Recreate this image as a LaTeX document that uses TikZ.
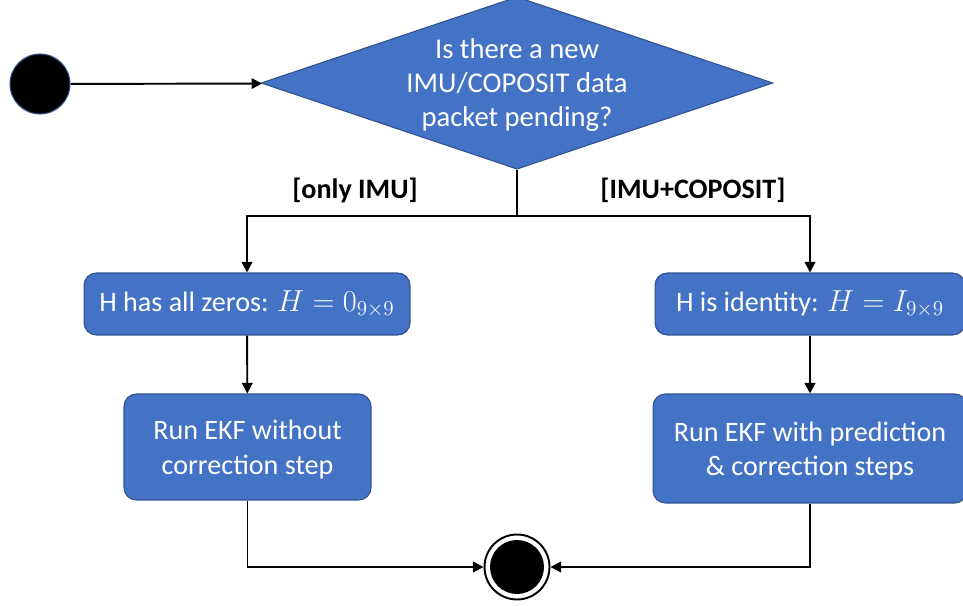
\documentclass[tikz,border=0pt]{standalone}
\usepackage{fontspec}
\setmainfont{Carlito}
\usetikzlibrary{shapes.geometric,arrows.meta}

\definecolor{boxblue}{HTML}{4472C4}
\definecolor{edgeblue}{HTML}{2F528F}

\newcommand{\hmath}[1]{{\fontsize{18.5}{20}\selectfont$#1$}}

\tikzset{
  flow/.style = {line width=1.1pt, -{Triangle[length=6pt,width=6pt]}},
  action/.style = {rectangle, rounded corners=7pt, draw=edgeblue, line width=0.6pt,
    fill=boxblue, text=white, align=center, inner sep=0pt,
    font=\fontsize{16}{19.8}\selectfont},
  decision/.style = {diamond, draw=edgeblue, line width=0.6pt, fill=boxblue,
    text=white, align=center, inner sep=0pt, aspect=2.95,
    minimum width=10.24cm, minimum height=3.3cm,
    font=\fontsize{16.3}{19.5}\selectfont},
  initial/.style = {circle, fill=black, draw=edgeblue, line width=0.6pt,
    minimum size=1.2cm, inner sep=0pt},
  final/.style = {circle, draw=black, line width=1.1pt, fill=white,
    minimum size=1.3cm, inner sep=0pt,
    path picture={\fill[black] (path picture bounding box.center) circle (0.54cm);}},
  guard/.style = {font=\fontsize{16}{19.5}\selectfont\bfseries}
}

\begin{document}
\begin{tikzpicture}[x=0.02cm, y=-0.02cm]
  \useasboundingbox (0,0) rectangle (963,605);

  \node[initial] (start) at (40,84) {};
  \node[decision] (pending) at (517,83) {\strut Is there a new\\IMU/COPOSIT data\\packet pending?};

  \node[action, minimum width=6.52cm, minimum height=1.24cm] (zeros) at (247,304)
    {H has all zeros: \hmath{H = 0_{9\times 9}}};
  \node[action, minimum width=6.2cm, minimum height=1.24cm] (identity) at (810,304)
    {H is identity: \hmath{H = I_{9\times 9}}};

  \node[action, minimum width=4.94cm, minimum height=2.12cm] (runplain) at (247.5,447)
    {\strut Run EKF without\\correction step};
  \node[action, minimum width=6.28cm, minimum height=2.18cm] (runfull) at (810,448.5)
    {\strut Run EKF with prediction\\\& correction steps};

  \node[final] (finish) at (517,567) {};

  \coordinate (fork) at (517,216);
  \node[guard] (onlyimu) at (355,190) {[only IMU]};
  \node[guard] (both) at (693,190) {[IMU+COPOSIT]};

  \draw[flow] (start) -- (pending);
  \draw[line width=1.1pt] (pending.south) -- (fork);
  \draw[flow] (fork) -| (zeros);
  \draw[flow] (fork) -| (identity);
  \draw[flow] (zeros) -- (runplain);
  \draw[flow] (identity) -- (runfull);
  \draw[flow] (runplain) |- (finish);
  \draw[flow] (runfull) |- (finish);
\end{tikzpicture}
\end{document}
